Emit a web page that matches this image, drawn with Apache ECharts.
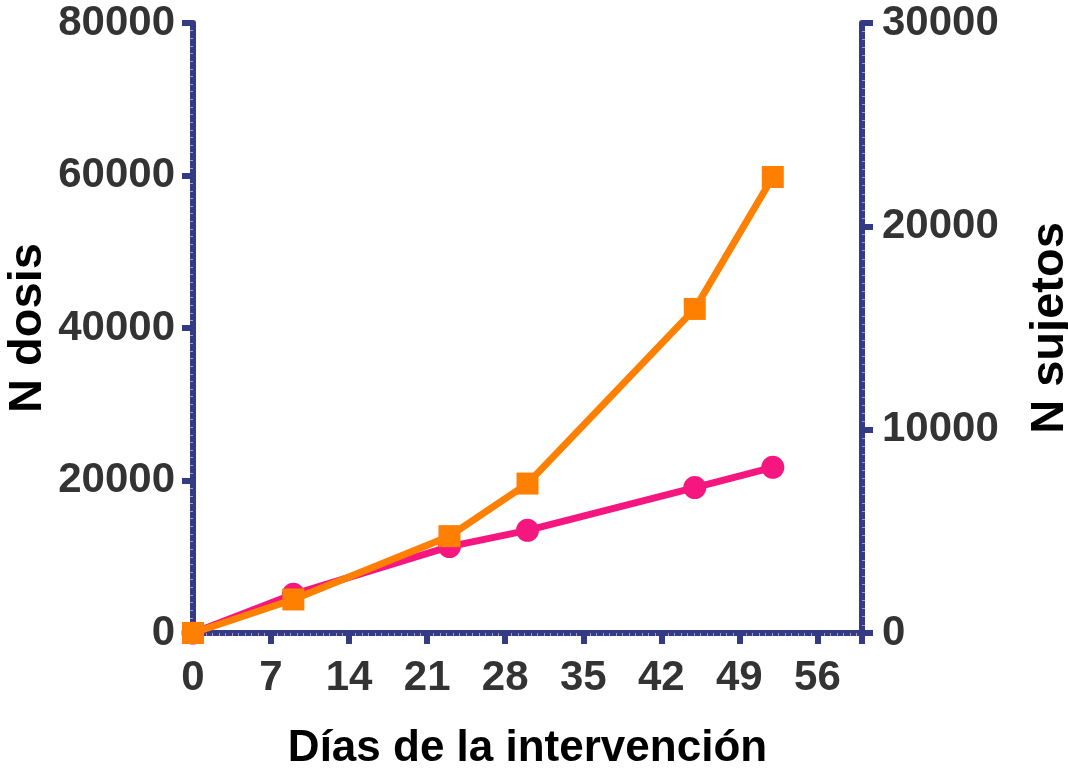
<!DOCTYPE html>
<html>
<head>
<meta charset="utf-8">
<script src="https://cdn.jsdelivr.net/npm/echarts@6/dist/echarts.min.js"></script>
<style>
  html, body { margin: 0; padding: 0; background: #fff; }
  #chart { width: 1068px; height: 768px; }
</style>
</head>
<body>
<div id="chart"></div>
<script>
// Day of the intervention for each measurement
const dias = [0, 9, 23, 30, 45, 52];
// Cumulative doses administered (left axis)
const nDosis = [0, 4400, 12700, 19600, 42500, 59800];
// Cumulative subjects vaccinated (right axis)
const nSujetos = [0, 1900, 4250, 5050, 7150, 8150];

const xTicks = [0, 7, 14, 21, 28, 35, 42, 49, 56];

const AXIS = '#353a85';
const LABEL = '#333333';
const FONT = "'Liberation Sans', Arial, sans-serif";
const MINOR = 'rgba(255,255,255,0.5)';

const tickLabel = { fontFamily: FONT, fontWeight: 'bold', fontSize: 42, color: LABEL };
const nameStyle = { fontFamily: FONT, fontWeight: 'bold', color: '#000' };

function axisBase(min, max, interval, minorSplit) {
  return {
    type: 'value',
    min: min, max: max, interval: interval,
    nameLocation: 'middle',
    nameMoveOverlap: false,
    axisLine: { show: true, lineStyle: { color: AXIS, width: 6 } },
    axisTick: { show: true, length: 11, lineStyle: { color: AXIS, width: 6 } },
    minorTick: { show: true, splitNumber: minorSplit, length: 3, lineStyle: { color: MINOR, width: 1 } },
    splitLine: { show: false },
    minorSplitLine: { show: false }
  };
}

const chart = echarts.init(document.getElementById('chart'), null, { renderer: 'canvas' });

chart.setOption({
  animation: false,
  backgroundColor: '#fff',
  grid: { left: 193, right: 206, top: 23, bottom: 135, containLabel: false, outerBoundsMode: 'none' },
  xAxis: Object.assign(axisBase(0, 60, 7, 12), {
    name: 'Días de la intervención',
    nameGap: 94,
    nameTextStyle: Object.assign({ fontSize: 44 }, nameStyle),
    axisLabel: Object.assign({
      margin: 24,
      hideOverlap: false,
      formatter: v => (xTicks.indexOf(v) >= 0 ? String(v) : '')
    }, tickLabel)
  }),
  yAxis: [
    Object.assign(axisBase(0, 80000, 20000, 20), {
      position: 'left',
      name: 'N dosis',
      nameRotate: 90,
      nameGap: 141,
      nameTextStyle: Object.assign({ fontSize: 47 }, nameStyle),
      axisLabel: Object.assign({ margin: 18, formatter: v => String(v) }, tickLabel)
    }),
    Object.assign(axisBase(0, 30000, 10000, 25), {
      position: 'right',
      name: 'N sujetos',
      nameRotate: 90,
      nameGap: 165,
      nameTextStyle: Object.assign({ fontSize: 47 }, nameStyle),
      axisLabel: Object.assign({ margin: 20, formatter: v => String(v) }, tickLabel)
    })
  ],
  series: [
    {
      name: 'N sujetos',
      type: 'line',
      xAxisIndex: 0,
      yAxisIndex: 1,
      data: dias.map((d, i) => [d, nSujetos[i]]),
      symbol: 'circle',
      symbolSize: 23,
      showAllSymbol: true,
      lineStyle: { color: '#f5177f', width: 7 },
      itemStyle: { color: '#f5177f', borderWidth: 0 },
      z: 3
    },
    {
      name: 'N dosis',
      type: 'line',
      xAxisIndex: 0,
      yAxisIndex: 0,
      data: dias.map((d, i) => [d, nDosis[i]]),
      symbol: 'rect',
      symbolSize: 22,
      showAllSymbol: true,
      lineStyle: { color: '#ff8000', width: 7 },
      itemStyle: { color: '#ff8000', borderWidth: 0 },
      z: 4
    }
  ]
});
</script>
</body>
</html>
